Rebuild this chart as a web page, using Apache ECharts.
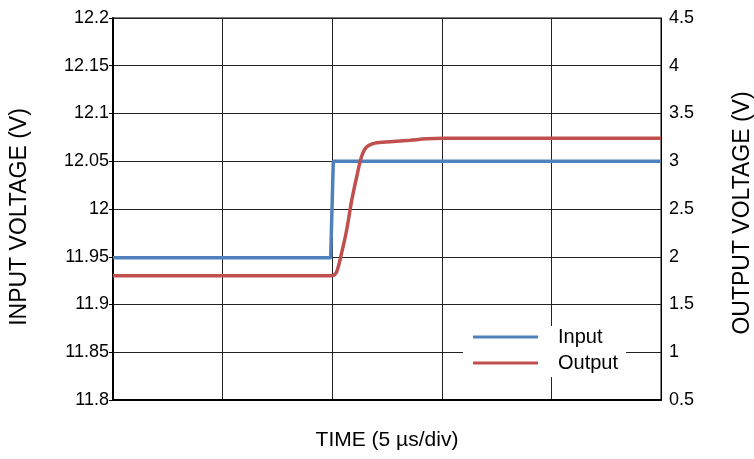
<!DOCTYPE html>
<html>
<head>
<meta charset="utf-8">
<script src="https://cdn.jsdelivr.net/npm/echarts@6/dist/echarts.min.js"></script>
<style>
  html, body { margin: 0; padding: 0; background: #fff; }
  #chart { width: 754px; height: 459px; }
</style>
</head>
<body>
<div id="chart"></div>
<script>
// time in microseconds, 5 us per division
const inputTime = [0, 9.93, 10.05, 25]
const inputVolts = [11.949, 11.949, 12.05, 12.05]
const outputTime = [0, 10.0, 10.2, 10.43, 10.66, 10.89, 11.12, 11.34, 11.57, 11.95, 12.64, 13.55, 14.31, 15.06, 25]
const outputVolts = [1.80, 1.80, 1.84, 2.04, 2.28, 2.59, 2.84, 3.05, 3.15, 3.19, 3.205, 3.22, 3.235, 3.24, 3.24]
const seriesNames = ['Input', 'Output']
const seriesColors = ['#4f81bd', '#c0504d']

const font = 'Liberation Sans, Arial, sans-serif'
const pair = (xs, ys) => xs.map((x, i) => [x, ys[i]])

const chart = echarts.init(document.getElementById('chart'))
chart.setOption({
  animation: false,
  backgroundColor: '#fff',
  textStyle: { fontFamily: font, color: '#000' },
  grid: { left: 113, right: 93, top: 18, bottom: 59, outerBoundsMode: 'none', show: true, borderColor: '#000', borderWidth: 1 },
  legend: {
    data: seriesNames,
    orient: 'vertical',
    left: 463, top: 326,
    padding: [1, 8, 4, 10],
    itemGap: 6,
    itemWidth: 65, itemHeight: 3,
    icon: 'rect',
    backgroundColor: '#fff',
    textStyle: { fontFamily: font, fontSize: 20, color: '#000', lineHeight: 20, padding: [0, 0, 0, 15] }
  },
  xAxis: {
    type: 'value', min: 0, max: 25, interval: 5,
    name: 'TIME (5 \u00b5s/div)', nameLocation: 'middle', nameGap: 30,
    nameTextStyle: { fontFamily: font, fontSize: 21, color: '#000' },
    axisLine: { lineStyle: { color: '#000', width: 2 } },
    axisTick: { show: false },
    axisLabel: { show: false },
    splitLine: { lineStyle: { color: '#222', width: 1 } }
  },
  yAxis: [{
    type: 'value', position: 'left', min: 11.8, max: 12.2, interval: 0.05,
    name: 'INPUT VOLTAGE (V)', nameLocation: 'middle', nameRotate: 90, nameGap: 82,
    nameTextStyle: { fontFamily: font, fontSize: 23, color: '#000', padding: [0, 16, 0, 0] },
    axisLine: { show: true, lineStyle: { color: '#000', width: 2 } },
    axisTick: { show: true, length: 4, lineStyle: { color: '#000' } },
    axisLabel: { margin: 4, fontFamily: font, fontSize: 18, color: '#000', formatter: v => String(+v.toFixed(2)) },
    splitLine: { lineStyle: { color: '#222', width: 1 } }
  }, {
    type: 'value', position: 'right', min: 0.5, max: 4.5, interval: 0.5,
    name: 'OUTPUT VOLTAGE (V)', nameLocation: 'middle', nameRotate: 90, nameGap: 70,
    nameTextStyle: { fontFamily: font, fontSize: 23, color: '#000', padding: [0, 8, 0, 0] },
    axisLine: { show: true, lineStyle: { color: '#000', width: 1 } },
    axisTick: { show: false },
    axisLabel: { margin: 8, fontFamily: font, fontSize: 18, color: '#000', formatter: v => String(+v.toFixed(1)) },
    splitLine: { show: false }
  }],
  series: [{
    name: seriesNames[0], type: 'line', yAxisIndex: 0,
    data: pair(inputTime, inputVolts),
    showSymbol: false, color: seriesColors[0],
    lineStyle: { color: seriesColors[0], width: 3.5 }
  }, {
    name: seriesNames[1], type: 'line', yAxisIndex: 1,
    data: pair(outputTime, outputVolts),
    smooth: 0.3, showSymbol: false, color: seriesColors[1],
    lineStyle: { color: seriesColors[1], width: 3.5 }
  }]
})
</script>
</body>
</html>
